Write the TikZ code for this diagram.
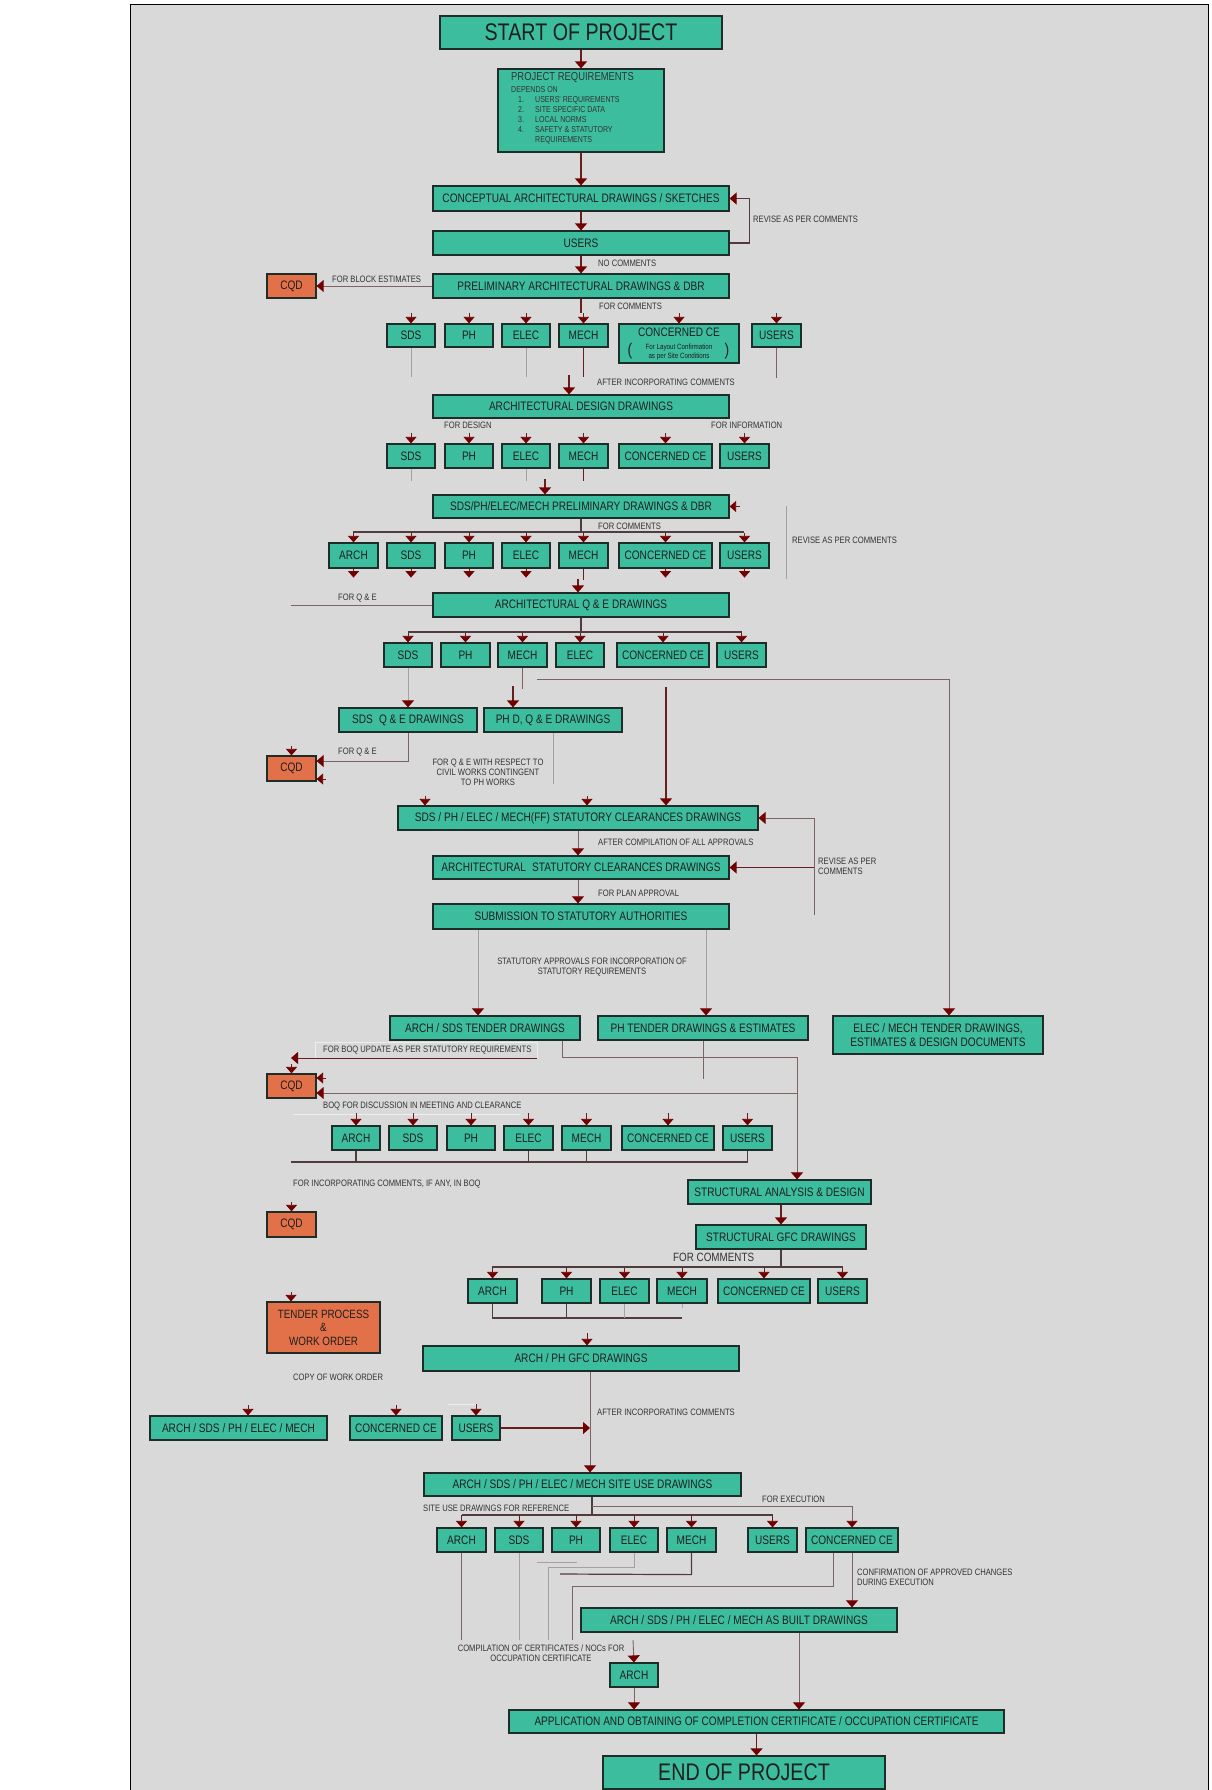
\documentclass[tikz,border=0pt]{standalone}
\usepackage{fontspec}
\newfontfamily\bx{Liberation Sans}[FakeStretch=0.82]
\usetikzlibrary{arrows.meta,calc}
\definecolor{teal1}{RGB}{60,190,158}
\definecolor{org}{RGB}{226,112,72}
\definecolor{panel}{RGB}{217,217,217}
\definecolor{bord}{RGB}{30,45,40}
\definecolor{dred}{RGB}{105,30,30}
\definecolor{tipc}{RGB}{115,0,0}
\definecolor{gl}{RGB}{125,100,100}
\definecolor{ll}{RGB}{168,160,160}
\definecolor{hl}{RGB}{80,60,60}
\definecolor{wl}{RGB}{238,238,238}
\tikzset{
 box/.style={draw=bord, fill=teal1, line width=1.2pt, inner sep=1pt, font=\bx\fontsize{12.3}{13.5}\selectfont, text=black!88, align=center},
 obox/.style={box, fill=org},
 lbl/.style={font=\bx\fontsize{9.3}{10}\selectfont, text=black!80, inner sep=0pt, anchor=west},
 tipA/.style={-{Triangle[width=12pt,length=7pt,color=tipc]}},
 marr/.style={draw=dred, line width=1.4pt, tipA},
 garr/.style={draw=gl, line width=0.9pt, tipA},
 larr/.style={draw=ll, line width=0.8pt, tipA},
 stub/.style={draw=dred, line width=0.8pt, -{Triangle[width=11pt,length=6.5pt,color=tipc]}},
 mline/.style={draw=dred, line width=1.4pt},
 hline/.style={draw=hl, line width=1.2pt},
 gline/.style={draw=gl, line width=0.8pt},
 lline/.style={draw=ll, line width=0.8pt},
 wline/.style={draw=wl, line width=0.8pt},
}
\newcommand\B[6][]{\node[box,#1,minimum width={#5pt-#3pt},minimum height={#6pt-#4pt}] (#2) at ({(#3+#5)/2},{(#4+#6)/2})}
\begin{document}
\begin{tikzpicture}[x=1pt,y=-1pt]
\useasboundingbox (0,0) rectangle (1211,1790);
\fill[white] (0,0) rectangle (1211,1790);
\draw[fill=panel, line width=1pt] (130,5) rectangle (1208,1800);

% ---------- top
\B[font=\bx\fontsize{24}{26}\selectfont]{start}{440}{16}{722}{49} {START OF PROJECT};
\B{req}{498}{69}{664}{152} {};
\node[lbl, anchor=north west, align=left, font=\bx\fontsize{8.6}{10}\selectfont] (reqt) at (511,72)
 {{\fontsize{11.5}{12}\selectfont PROJECT REQUIREMENTS}\\[2pt]DEPENDS ON\\
  \hspace*{7pt}\makebox[17pt][l]{1.}USERS' REQUIREMENTS\\
  \hspace*{7pt}\makebox[17pt][l]{2.}SITE SPECIFIC DATA\\
  \hspace*{7pt}\makebox[17pt][l]{3.}LOCAL NORMS\\
  \hspace*{7pt}\makebox[17pt][l]{4.}SAFETY \& STATUTORY\\
  \hspace*{24pt}REQUIREMENTS};
\B{concept}{433}{186}{729}{211} {CONCEPTUAL ARCHITECTURAL DRAWINGS / SKETCHES};
\B{users1}{433}{231}{729}{255} {USERS};
\B{prelim}{433}{274}{729}{298} {PRELIMINARY ARCHITECTURAL DRAWINGS \& DBR};
\B[obox]{cqd1}{267}{274}{316}{298} {CQD};

\draw[marr] (start) -- (req);
\draw[marr] (req) -- (concept);
\draw[marr] (concept) -- (users1);
\draw[marr, draw=hl, line width=1.1pt] (users1.east) -- ++(20,0) |- (concept.east);
\node[lbl] (lrev1) at (753,219) {REVISE AS PER COMMENTS};
\draw[marr] (users1) -- (prelim);
\node[lbl] (lnoc) at (598,263) {NO COMMENTS};
\draw[garr] (prelim.west) -- (cqd1.east);
\node[lbl] (lblock) at (332,279) {FOR BLOCK ESTIMATES};
\draw[mline] (prelim.south) -- ++(0,14);
\node[lbl] (lfc1) at (599,306) {FOR COMMENTS};

% ---------- row 1
\B{r1sds}{387}{324}{435}{347} {SDS};
\B{r1ph}{445}{324}{493}{347} {PH};
\B{r1elec}{502}{324}{550}{347} {ELEC};
\B{r1mech}{559}{324}{608}{347} {MECH};
\B{r1ce}{619}{324}{739}{363} {};
\node[inner sep=0pt, font=\bx\fontsize{12.3}{13}\selectfont, text=black!88] (r1cet) at (679,332) {CONCERNED CE};
\node[inner sep=0pt, font=\bx\fontsize{7.6}{9.5}\selectfont, text=black!88, align=center] (r1ces) at (679,352) {For Layout Confirmation\\as per Site Conditions};
\node[inner sep=0pt, font=\bx\fontsize{17}{17}\selectfont, text=black!88] (r1cel) at (630,351) {(};
\node[inner sep=0pt, font=\bx\fontsize{17}{17}\selectfont, text=black!88] (r1cer) at (727,351) {)};
\B{r1users}{752}{324}{801}{347} {USERS};
\foreach \n in {r1sds,r1ph,r1elec,r1mech,r1ce,r1users} {\draw[stub] ($(\n.north)+(0,-10)$) -- (\n.north);}
\draw[lline] (r1sds.south) -- ++(0,29);
\draw[lline] (r1elec.south) -- ++(0,29);
\draw[mline] (r1mech.south) -- ++(0,29);
\draw[gline] (r1users.south) -- ++(0,30);

\B{archdes}{433}{395}{729}{418} {ARCHITECTURAL DESIGN DRAWINGS};
\draw[marr] ($(archdes.north)+(-12,-19)$) -- ($(archdes.north)+(-12,0)$);
\node[lbl] (laic1) at (597,382) {AFTER INCORPORATING COMMENTS};
\node[lbl] (lfd) at (444,425) {FOR DESIGN};
\node[lbl] (lfi) at (711,425) {FOR INFORMATION};

% ---------- row 2
\B{r2sds}{387}{444}{435}{468} {SDS};
\B{r2ph}{445}{444}{493}{468} {PH};
\B{r2elec}{502}{444}{550}{468} {ELEC};
\B{r2mech}{559}{444}{608}{468} {MECH};
\B{r2ce}{619}{444}{712}{468} {CONCERNED CE};
\B{r2users}{720}{444}{769}{468} {USERS};
\foreach \n in {r2sds,r2ph,r2elec,r2mech,r2ce,r2users} {\draw[stub] ($(\n.north)+(0,-10)$) -- (\n.north);}
\draw[lline] (r2sds.south) -- ++(0,12);
\draw[lline] (r2elec.south) -- ++(0,12);
\draw[mline] (r2mech.south) -- ++(0,12);

\B{sprelim}{433}{495}{729}{518} {SDS/PH/ELEC/MECH PRELIMINARY DRAWINGS \& DBR};
\draw[marr] ($(sprelim.north)+(-36,-15)$) -- ($(sprelim.north)+(-36,0)$);
\draw[stub] ($(sprelim.east)+(10,0)$) -- (sprelim.east);
\coordinate (rv2a) at (786,506);
\coordinate (rv2b) at (786,579);
\draw[lline] (rv2a) -- (rv2b);
\node[lbl] (lrev2) at (792,540) {REVISE AS PER COMMENTS};

% ---------- row 3
\draw[hline] (sprelim.south) -- ++(0,14) coordinate (b3);
\coordinate (b3l) at (353,532);
\coordinate (b3r) at (744,532);
\draw[hline] (b3l) -- (b3r);
\node[lbl] (lfc2) at (598,526) {FOR COMMENTS};
\B{r3arch}{329}{543}{378}{568} {ARCH};
\B{r3sds}{387}{543}{435}{568} {SDS};
\B{r3ph}{445}{543}{493}{568} {PH};
\B{r3elec}{502}{543}{550}{568} {ELEC};
\B{r3mech}{559}{543}{608}{568} {MECH};
\B{r3ce}{619}{543}{712}{568} {CONCERNED CE};
\B{r3users}{720}{543}{769}{568} {USERS};
\foreach \n in {r3arch,r3sds,r3ph,r3elec,r3mech,r3ce,r3users} {\draw[stub] (\n.north |- b3) -- (\n.north);}
\foreach \n in {r3arch,r3sds,r3ph,r3elec,r3ce,r3users} {\draw[stub] (\n.south) -- ++(0,9);}
\draw[mline] (r3mech.south) -- ++(0,11);

\B{qe}{433}{593}{729}{617} {ARCHITECTURAL Q \& E DRAWINGS};
\draw[marr] ($(qe.north)+(-3,-13)$) -- ($(qe.north)+(-3,0)$);
\coordinate (qel) at (291,605);
\draw[gline] (qe.west) -- (qel);
\node[lbl] (lqe1) at (338,598) {FOR Q \& E};

% ---------- row 4
\draw[hline] (qe.south) -- ++(0,15) coordinate (b4);
\coordinate (b4l) at (408,632);
\coordinate (b4r) at (742,632);
\draw[hline] (b4l) -- (b4r);
\B{r4sds}{384}{643}{432}{667} {SDS};
\B{r4ph}{441}{643}{490}{667} {PH};
\B{r4mech}{498}{643}{547}{667} {MECH};
\B{r4elec}{556}{643}{604}{667} {ELEC};
\B{r4ce}{617}{643}{709}{667} {CONCERNED CE};
\B{r4users}{717}{643}{766}{667} {USERS};
\foreach \n in {r4sds,r4ph,r4mech,r4elec,r4ce,r4users} {\draw[stub] (\n.north |- b4) -- (\n.north);}

\B{sdsqe}{339}{708}{477}{732} {SDS\enspace Q \& E DRAWINGS};
\B{phqe}{484}{708}{622}{732} {PH D, Q \& E DRAWINGS};
\B{emten}{833}{1016}{1043}{1054} {ELEC / MECH TENDER DRAWINGS,\\ESTIMATES \& DESIGN DOCUMENTS};
\B{statc}{398}{806}{758}{830} {SDS / PH / ELEC / MECH(FF) STATUTORY CLEARANCES DRAWINGS};
\coordinate (h4) at (537,679);
\draw[garr] (h4) -| ($(emten.north)+(11,0)$);
\draw[gline] (r4mech.south) -- ++(0,21);
\draw[marr] ($(phqe.north)+(-40,-21)$) -- ($(phqe.north)+(-40,0)$);
\draw[larr] (r4sds) -- (sdsqe);
\draw[marr] ($(statc.north)+(88,-118)$) -- ($(statc.north)+(88,0)$);

\B[obox]{cqd2}{267}{756}{316}{781} {CQD};
\draw[garr] (sdsqe.south) |- ($(cqd2.east)+(0,-7.5)$);
\draw[stub] ($(cqd2.east)+(9,10.5)$) -- ($(cqd2.east)+(0,10.5)$);
\draw[stub] ($(cqd2.north)+(0,-9)$) -- (cqd2.north);
\node[lbl] (lqe2) at (338,752) {FOR Q \& E};
\node[lbl, anchor=center, align=center] (lcivil) at (488,772) {FOR Q \& E WITH RESPECT TO\\CIVIL WORKS CONTINGENT\\TO PH WORKS};
\draw[lline] (phqe.south) -- ++(0,51);

% ---------- statutory
\draw[stub] ($(statc.north)+(-153,-9)$) -- ($(statc.north)+(-153,0)$);
\draw[stub] ($(statc.north)+(9,-9)$) -- ($(statc.north)+(9,0)$);
\B{archstat}{433}{856}{729}{879} {ARCHITECTURAL\enspace STATUTORY CLEARANCES DRAWINGS};
\B{submit}{433}{904}{729}{929} {SUBMISSION TO STATUTORY AUTHORITIES};
\coordinate (rv3a) at (814,818);
\coordinate (rv3b) at (814,915);
\coordinate (rv3c) at (814,867.5);
\draw[gline] (rv3b) -- (rv3a);
\draw[garr] (rv3a) -- (statc.east);
\draw[marr] (rv3c) -- (archstat.east);
\node[lbl, align=left] (lrev3) at (818,866) {REVISE AS PER\\COMMENTS};
\draw[garr] (statc.south) -- (statc.south |- archstat.north);
\node[lbl] (lafter) at (598,842) {AFTER COMPILATION OF ALL APPROVALS};
\draw[garr] ($(archstat.south)+(-3,0)$) -- ($(submit.north)+(-3,0)$);
\node[lbl] (lplan) at (598,893) {FOR PLAN APPROVAL};

% ---------- tenders
\B{asten}{390}{1016}{580}{1040} {ARCH / SDS TENDER DRAWINGS};
\B{phten}{598}{1016}{808}{1040} {PH TENDER DRAWINGS \& ESTIMATES};
\draw[larr] ($(submit.south)+(-103,0)$) -- ($(asten.north)+(-7,0)$);
\draw[larr] ($(submit.south)+(125,0)$) -- ($(phten.north)+(3,0)$);
\node[lbl, anchor=center, align=center] (lstat) at (592,967) {STATUTORY APPROVALS FOR INCORPORATION OF\\STATUTORY REQUIREMENTS};

\B[obox]{cqd3}{267}{1074}{316}{1098} {CQD};
\draw[wline] (315,1058) -- (315,1042) -- (537,1042) -- (537,1058);
\node[lbl] (lboq) at (323,1050) {FOR BOQ UPDATE AS PER STATUTORY REQUIREMENTS};
\coordinate (bq1) at (537,1058);
\coordinate (bq2) at (291,1058);
\draw[garr, draw=dred] (bq1) -- (bq2);
\B{sad}{688}{1180}{871}{1204} {STRUCTURAL ANALYSIS \& DESIGN};
\draw[garr] ($(asten.south)+(77,0)$) |- ($(sad.north)+(17.5,-122)$) -- ($(sad.north)+(17.5,0)$);
\draw[gline] (phten.south) -- ++(0,38);
\coordinate (h5) at (797,1093);
\draw[garr] (h5) -- ($(cqd3.east)+(0,7)$);
\draw[stub] ($(cqd3.east)+(9,-8)$) -- ($(cqd3.east)+(0,-8)$);
\draw[stub] ($(cqd3.north)+(0,-9)$) -- (cqd3.north);
\node[lbl] (ldisc) at (323,1106) {BOQ FOR DISCUSSION IN MEETING AND CLEARANCE};
\coordinate (w5a) at (293,1114);
\coordinate (w5b) at (520,1114);
\draw[wline] (w5a) -- (w5b);

% ---------- row 5
\B{r5arch}{332}{1126}{380}{1150} {ARCH};
\B{r5sds}{389}{1126}{437}{1150} {SDS};
\B{r5ph}{447}{1126}{495}{1150} {PH};
\B{r5elec}{504}{1126}{553}{1150} {ELEC};
\B{r5mech}{562}{1126}{611}{1150} {MECH};
\B{r5ce}{622}{1126}{714}{1150} {CONCERNED CE};
\B{r5users}{723}{1126}{772}{1150} {USERS};
\foreach \n in {r5arch,r5sds,r5ph,r5elec,r5mech,r5ce,r5users} {\draw[stub] ($(\n.north)+(0,-12)$) -- (\n.north);}
\coordinate (b5) at (291,1162);
\draw[hline] (b5) -- (r5users.south |- b5);
\foreach \n in {r5arch,r5elec,r5mech,r5users} {\draw[hline] (\n.south) -- (\n.south |- b5);}
\node[lbl] (linc) at (293,1184) {FOR INCORPORATING COMMENTS, IF ANY, IN BOQ};
\B[obox]{cqd4}{267}{1212}{316}{1237} {CQD};
\draw[stub] ($(cqd4.north)+(0,-9)$) -- (cqd4.north);

% ---------- structural
\B{sgfc}{696}{1225}{866}{1249} {STRUCTURAL GFC DRAWINGS};
\draw[marr] (sad.south -| sgfc.north) -- (sgfc.north);
\draw[hline] (sgfc.south) -- ++(0,18) coordinate (b6);
\coordinate (b6l) at (492,1267);
\coordinate (b6r) at (843,1267);
\draw[hline] (b6l) -- (b6r);
\node[lbl, font=\bx\fontsize{12}{13}\selectfont] (lfc3) at (673,1257) {FOR COMMENTS};
\B{r6arch}{468}{1279}{517}{1303} {ARCH};
\B{r6ph}{542}{1279}{591}{1303} {PH};
\B{r6elec}{600}{1279}{649}{1303} {ELEC};
\B{r6mech}{657}{1279}{707}{1303} {MECH};
\B{r6ce}{718}{1279}{810}{1303} {CONCERNED CE};
\B{r6users}{818}{1279}{867}{1303} {USERS};
\foreach \n in {r6arch,r6ph,r6elec,r6mech,r6ce,r6users} {\draw[stub] (\n.north |- b6) -- (\n.north);}
\coordinate (b6b) at (0,1318);
\draw[hline] (r6arch.south) -- (r6arch.south |- b6b) -- (r6mech.south |- b6b);
\draw[hline] (r6ph.south) -- (r6ph.south |- b6b);
\draw[lline] (r6elec.south) -- (r6elec.south |- b6b);
\draw[lline] (r6mech.south) -- ++(0,4);

\B[obox, font=\bx\fontsize{12}{13.5}\selectfont]{tender}{267}{1302}{380}{1353} {TENDER PROCESS\\\&\\WORK ORDER};
\draw[stub] ($(tender.north)+(-32.5,-9)$) -- ($(tender.north)+(-32.5,0)$);
\B{apgfc}{423}{1346}{739}{1371} {ARCH / PH GFC DRAWINGS};
\draw[stub] ($(apgfc.north)+(6,-12)$) -- ($(apgfc.north)+(6,0)$);
\node[lbl] (lcopy) at (293,1377) {COPY OF WORK ORDER};

% ---------- row 7
\B{r7all}{150}{1416}{327}{1440} {ARCH / SDS / PH / ELEC / MECH};
\B{r7ce}{350}{1416}{442}{1440} {CONCERNED CE};
\B{r7users}{452}{1416}{500}{1440} {USERS};
\draw[stub] ($(r7all.north)+(9.5,-10)$) -- ($(r7all.north)+(9.5,0)$);
\draw[stub] ($(r7ce.north)+(0,-10)$) -- (r7ce.north);
\coordinate (w7) at (448,1404);
\draw[wline] (w7) -- (w7 -| r7users.north);
\draw[stub] (w7 -| r7users.north) -- (r7users.north);
\B{siteuse}{424}{1473}{741}{1496} {ARCH / SDS / PH / ELEC / MECH SITE USE DRAWINGS};
\coordinate (v) at (590,0);
\draw[garr] (apgfc.south -| v) -- (siteuse.north -| v);
\draw[marr] (r7users.east) -- (r7users.east -| v);
\node[lbl] (laic2) at (597,1412) {AFTER INCORPORATING COMMENTS};

% ---------- row 8
\coordinate (b8) at (592,1515);
\coordinate (b8e) at (592,1506);
\draw[hline] (siteuse.south -| b8) -- (b8);
\node[lbl] (lsite) at (423,1508) {SITE USE DRAWINGS FOR REFERENCE};
\node[lbl] (lexec) at (762,1499) {FOR EXECUTION};
\B{r8arch}{437}{1528}{486}{1552} {ARCH};
\B{r8sds}{495}{1528}{543}{1552} {SDS};
\B{r8ph}{552}{1528}{600}{1552} {PH};
\B{r8elec}{610}{1528}{658}{1552} {ELEC};
\B{r8mech}{667}{1528}{716}{1552} {MECH};
\B{r8users}{748}{1528}{797}{1552} {USERS};
\B{r8ce}{806}{1528}{898}{1552} {CONCERNED CE};
\draw[hline] (r8arch.north |- b8) -- (r8users.north |- b8);
\foreach \n in {r8arch,r8sds,r8ph,r8elec,r8mech,r8users} {\draw[stub] (\n.north |- b8) -- (\n.north);}
\draw[gline] (b8e) -- (r8ce.north |- b8e);
\draw[stub, draw=gl] (r8ce.north |- b8e) -- (r8ce.north);

\B{asbuilt}{581}{1608}{897}{1632} {ARCH / SDS / PH / ELEC / MECH AS BUILT DRAWINGS};
\B{arch9}{610}{1663}{658}{1687} {ARCH};
\B{appl}{509}{1710}{1004}{1733} {APPLICATION AND OBTAINING OF COMPLETION CERTIFICATE / OCCUPATION CERTIFICATE};
\B[font=\bx\fontsize{24}{26}\selectfont]{endp}{603}{1756}{885}{1789} {END OF PROJECT};

\coordinate (c1) at (461,1640);
\coordinate (c2) at (548,1640);
\coordinate (c3) at (572,1640);
\coordinate (c4) at (633,1640);
\draw[gline] (r8arch.south) -- (r8arch.south |- c1);
\draw[lline] (r8sds.south) -- (r8sds.south |- c1);
\coordinate (s1) at (537,1562);
\coordinate (s2) at (577,1562);
\draw[lline] (s1) -- (s2);
\draw[lline] (r8elec.south) -- ++(0,15) -| (c2);
\coordinate (m1) at (560,1574);
\draw[hline] (r8mech.south) -- ++(0,22) -- (m1);
\draw[gline] ($(r8ce.south)+(-19,0)$) -- ++(0,34) -| (c3);
\draw[garr] (r8ce.south) -- (r8ce.south |- asbuilt.north);
\node[lbl, align=left] (lconf) at (857,1577) {CONFIRMATION OF APPROVED CHANGES\\DURING EXECUTION};
\node[lbl, anchor=center, align=center] (lcomp) at (541,1653) {COMPILATION OF CERTIFICATES / NOCs FOR\\OCCUPATION CERTIFICATE};
\draw[garr] (c4) -- (arch9.north);
\draw[garr] (arch9.south) -- (arch9.south |- appl.north);
\coordinate (ab) at ($(asbuilt.south)+(60,0)$);
\draw[garr] (ab) -- (ab |- appl.north);
\draw[marr] (appl.south) -- (appl.south |- endp.north);
\end{tikzpicture}
\end{document}
